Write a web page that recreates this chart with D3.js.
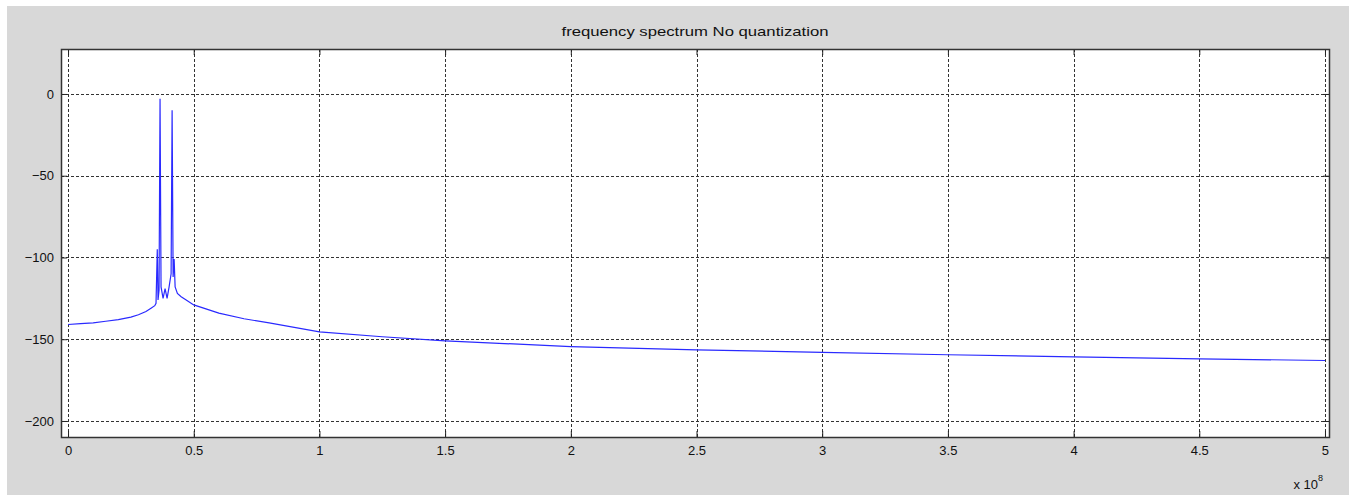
<!DOCTYPE html>
<html>
<head>
<meta charset="utf-8">
<script src="https://cdn.jsdelivr.net/npm/d3@7"></script>
<style>
  body { margin: 0; background: #fff; }
  svg { display: block; }
  text { font-family: "Liberation Sans", Arial, sans-serif; font-size: 13px; fill: #111; }
</style>
</head>
<body>
<div id="chart"></div>
<script>
// frequency in units of 1e8 Hz, magnitude in dB
const freqs = [0, 0.05, 0.1, 0.15, 0.2, 0.25, 0.28, 0.31, 0.33, 0.345, 0.35, 0.355, 0.358, 0.362, 0.366, 0.370,
  0.378, 0.386, 0.394, 0.402, 0.41, 0.414, 0.418, 0.422, 0.426, 0.435, 0.45, 0.47, 0.5, 0.6, 0.7, 0.8,
  1.0, 1.25, 1.5, 2.0, 2.5, 3.0, 3.5, 4.0, 4.5, 5.0];
const mags = [-141, -140.5, -140, -139, -138, -136.5, -135, -133, -131, -129.5, -128, -95, -126, -120, -3, -118,
  -125, -119, -125, -118, -110, -10, -112, -101, -118, -122, -124, -126, -129, -134, -137.5, -140,
  -145.5, -148.5, -151, -154.5, -156.5, -158, -159.5, -160.8, -162, -163];
const xTicks = [0, 0.5, 1, 1.5, 2, 2.5, 3, 3.5, 4, 4.5, 5];
const yTicks = [0, -50, -100, -150, -200];

const W = 1349, H = 495;
const box = {left: 61, right: 1329, top: 49, bottom: 437};

const svg = d3.select("#chart").append("svg")
    .attr("width", W)
    .attr("height", H);

// gray figure background
svg.append("rect").attr("x", 7).attr("y", 6).attr("width", W - 7).attr("height", H - 6).attr("fill", "#d8d8d8");

const x = d3.scaleLinear().domain([-0.028, 5.016]).range([box.left, box.right]);
const y = d3.scaleLinear().domain([-209.8, 27.5]).range([box.bottom, box.top]);

svg.append("rect")
    .attr("x", box.left).attr("y", box.top)
    .attr("width", box.right - box.left).attr("height", box.bottom - box.top)
    .attr("fill", "#fff");

// grid
svg.append("g").selectAll("line").data(xTicks).enter().append("line")
    .attr("x1", d => Math.round(x(d)) + 0.5).attr("x2", d => Math.round(x(d)) + 0.5)
    .attr("y1", box.top).attr("y2", box.bottom)
    .attr("stroke", "#333").attr("stroke-dasharray", "3,2");
svg.append("g").selectAll("line").data(yTicks).enter().append("line")
    .attr("y1", d => Math.round(y(d)) + 0.5).attr("y2", d => Math.round(y(d)) + 0.5)
    .attr("x1", box.left).attr("x2", box.right)
    .attr("stroke", "#333").attr("stroke-dasharray", "3,2");

// spectrum
svg.append("path")
    .datum(freqs.map((f, i) => [f, mags[i]]))
    .attr("d", d3.line().x(d => x(d[0])).y(d => y(d[1])))
    .attr("fill", "none")
    .attr("stroke", "#2a2aff")
    .attr("stroke-width", 1.2);

// axes (ticks inward on all four sides)
const tl = 6;
svg.append("g").attr("transform", `translate(0,${box.bottom})`)
    .call(d3.axisBottom(x).tickValues(xTicks).tickSizeInner(-tl).tickSizeOuter(0).tickPadding(9).tickFormat(d3.format("")))
    .call(g => g.select(".domain").remove());
svg.append("g").attr("transform", `translate(0,${box.top})`)
    .call(d3.axisTop(x).tickValues(xTicks).tickSizeInner(-tl).tickSizeOuter(0).tickFormat(""))
    .call(g => g.select(".domain").remove());
svg.append("g").attr("transform", `translate(${box.left},0)`)
    .call(d3.axisLeft(y).tickValues(yTicks).tickSizeInner(-tl).tickSizeOuter(0).tickPadding(7))
    .call(g => g.select(".domain").remove());
svg.append("g").attr("transform", `translate(${box.right},0)`)
    .call(d3.axisRight(y).tickValues(yTicks).tickSizeInner(-tl).tickSizeOuter(0).tickFormat(""))
    .call(g => g.select(".domain").remove());
svg.selectAll(".tick line").attr("stroke", "#222");
svg.selectAll(".tick text").style("font-family", "Liberation Sans, Arial, sans-serif").style("font-size", "13px").attr("fill", "#111");

// box frame
svg.append("rect")
    .attr("x", box.left + 0.5).attr("y", box.top + 0.5)
    .attr("width", box.right - box.left).attr("height", box.bottom - box.top)
    .attr("fill", "none").attr("stroke", "#333").attr("stroke-width", 1.5);

// exponent label
svg.append("text").attr("x", 1318).attr("y", 489).attr("text-anchor", "end").text("x 10");
svg.append("text").attr("x", 1318).attr("y", 481).style("font-size", "9px").text("8");

// title
svg.append("text")
    .attr("x", (box.left + box.right) / 2).attr("y", 36)
    .attr("text-anchor", "middle")
    .attr("textLength", 267)
    .attr("lengthAdjust", "spacingAndGlyphs")
    .text("frequency spectrum No quantization");
</script>
</body>
</html>
